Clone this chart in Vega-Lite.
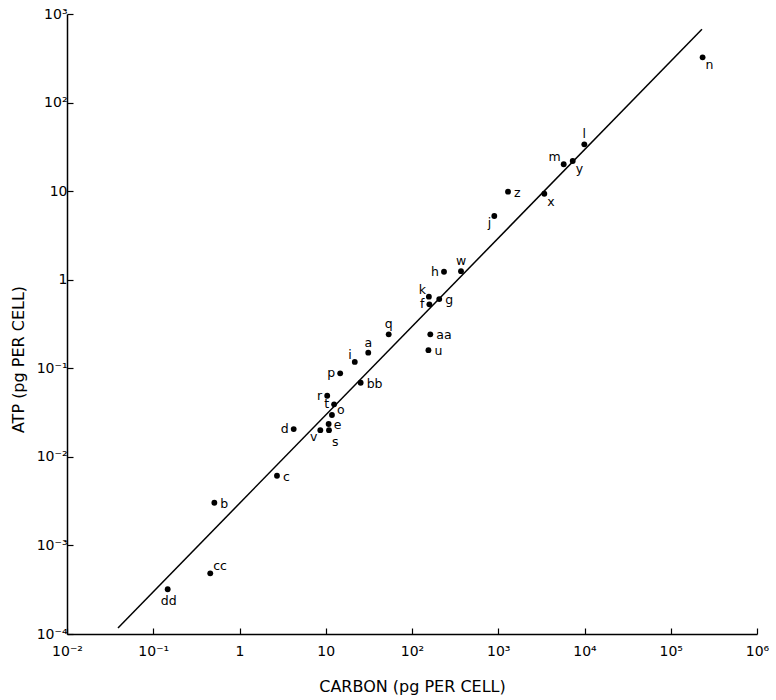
{
  "$schema": "https://vega.github.io/schema/vega-lite/v6.json",
  "width": 690,
  "height": 620,
  "autosize": "none",
  "padding": {"left": 67, "top": 14, "right": 19, "bottom": 66},
  "background": "white",
  "config": {
    "view": {"stroke": null},
    "axis": {
      "grid": false,
      "domainColor": "black",
      "domainWidth": 1.5,
      "tickColor": "black",
      "tickWidth": 1.2,
      "tickSize": -6,
      "labelColor": "black",
      "labelFont": "DejaVu Sans",
      "labelFontSize": 14,
      "titleFont": "DejaVu Sans",
      "titleFontSize": 16,
      "titleFontWeight": "normal",
      "titleColor": "black"
    },
    "text": {"font": "DejaVu Sans", "fontSize": 12.5, "color": "black", "baseline": "middle"}
  },
  "datasets": {
    "points": [
      {"label": "n", "carbon": 234000, "atp": 324},
      {"label": "l", "carbon": 9950, "atp": 33.8},
      {"label": "m", "carbon": 5740, "atp": 20.1},
      {"label": "y", "carbon": 7300, "atp": 21.9},
      {"label": "z", "carbon": 1298, "atp": 9.86},
      {"label": "x", "carbon": 3420, "atp": 9.35},
      {"label": "j", "carbon": 900, "atp": 5.24},
      {"label": "h", "carbon": 235, "atp": 1.23},
      {"label": "w", "carbon": 370, "atp": 1.25},
      {"label": "k", "carbon": 157, "atp": 0.643},
      {"label": "g", "carbon": 207, "atp": 0.605},
      {"label": "f", "carbon": 159, "atp": 0.527},
      {"label": "q", "carbon": 53.7, "atp": 0.242},
      {"label": "aa", "carbon": 163, "atp": 0.242},
      {"label": "u", "carbon": 155, "atp": 0.16},
      {"label": "a", "carbon": 31.1, "atp": 0.15},
      {"label": "i", "carbon": 21.7, "atp": 0.118},
      {"label": "p", "carbon": 14.7, "atp": 0.0877},
      {"label": "bb", "carbon": 25.4, "atp": 0.0687},
      {"label": "r", "carbon": 10.4, "atp": 0.049},
      {"label": "t", "carbon": 12.5, "atp": 0.0392},
      {"label": "o", "carbon": 11.8, "atp": 0.0297},
      {"label": "e", "carbon": 10.8, "atp": 0.0235},
      {"label": "s", "carbon": 10.9, "atp": 0.02},
      {"label": "v", "carbon": 8.65, "atp": 0.02},
      {"label": "d", "carbon": 4.25, "atp": 0.0206},
      {"label": "c", "carbon": 2.72, "atp": 0.00612},
      {"label": "b", "carbon": 0.511, "atp": 0.00303},
      {"label": "cc", "carbon": 0.458, "atp": 0.000484},
      {"label": "dd", "carbon": 0.147, "atp": 0.00032}
    ],
    "fit": [
      {"carbon": 0.039, "atp": 0.000117},
      {"carbon": 230000, "atp": 671}
    ]
  },
  "layer": [
    {
      "data": {"name": "fit"},
      "mark": {"type": "line", "color": "black", "strokeWidth": 1.5, "clip": true},
      "encoding": {
        "x": {
          "field": "carbon", "type": "quantitative",
          "scale": {"type": "log", "domain": [0.01, 1000000], "nice": false},
          "axis": {
            "title": "CARBON (pg PER CELL)",
            "values": [0.01, 0.1, 1, 10, 100, 1000, 10000, 100000, 1000000],
            "labelExpr": "['10⁻⁴','10⁻³','10⁻²','10⁻¹','1','10','10²','10³','10⁴','10⁵','10⁶'][round(log(datum.value)/LN10)+4]",
            "labelPadding": 16,
            "titlePadding": 20,
            "labelFlush": false
          }
        },
        "y": {
          "field": "atp", "type": "quantitative",
          "scale": {"type": "log", "domain": [0.0001, 1000], "nice": false},
          "axis": {
            "title": "ATP (pg PER CELL)",
            "values": [0.0001, 0.001, 0.01, 0.1, 1, 10, 100, 1000],
            "labelExpr": "['10⁻⁴','10⁻³','10⁻²','10⁻¹','1','10','10²','10³','10⁴','10⁵','10⁶'][round(log(datum.value)/LN10)+4]",
            "labelPadding": 6,
            "titlePadding": 10,
            "labelFlush": false,
            "titleY": 345
          }
        }
      }
    },
    {
      "data": {"name": "points"},
      "mark": {"type": "circle", "color": "black", "opacity": 1, "size": 34},
      "encoding": {
        "x": {"field": "carbon", "type": "quantitative"},
        "y": {"field": "atp", "type": "quantitative"}
      }
    },
    {
      "data": {"name": "points"},
      "transform": [{"filter": {"field": "label", "oneOf": ["c", "b", "z", "g", "aa", "u", "bb"]}}],
      "mark": {"type": "text", "align": "left", "dx": 6, "dy": 1, "color": "black"},
      "encoding": {
        "x": {"field": "carbon", "type": "quantitative"},
        "y": {"field": "atp", "type": "quantitative"},
        "text": {"field": "label"}
      }
    },
    {
      "data": {"name": "points"},
      "transform": [{"filter": {"field": "label", "oneOf": ["o"]}}],
      "mark": {"type": "text", "align": "left", "dx": 5, "dy": -5, "color": "black"},
      "encoding": {
        "x": {"field": "carbon", "type": "quantitative"},
        "y": {"field": "atp", "type": "quantitative"},
        "text": {"field": "label"}
      }
    },
    {
      "data": {"name": "points"},
      "transform": [{"filter": {"field": "label", "oneOf": ["e"]}}],
      "mark": {"type": "text", "align": "left", "dx": 5, "dy": 1, "color": "black"},
      "encoding": {
        "x": {"field": "carbon", "type": "quantitative"},
        "y": {"field": "atp", "type": "quantitative"},
        "text": {"field": "label"}
      }
    },
    {
      "data": {"name": "points"},
      "transform": [{"filter": {"field": "label", "oneOf": ["d", "p", "r", "t", "f", "h"]}}],
      "mark": {"type": "text", "align": "right", "dx": -5, "dy": 0, "color": "black"},
      "encoding": {
        "x": {"field": "carbon", "type": "quantitative"},
        "y": {"field": "atp", "type": "quantitative"},
        "text": {"field": "label"}
      }
    },
    {
      "data": {"name": "points"},
      "transform": [{"filter": {"field": "label", "oneOf": ["q", "a", "w", "l"]}}],
      "mark": {"type": "text", "align": "center", "dx": 0, "dy": -10, "color": "black"},
      "encoding": {
        "x": {"field": "carbon", "type": "quantitative"},
        "y": {"field": "atp", "type": "quantitative"},
        "text": {"field": "label"}
      }
    },
    {
      "data": {"name": "points"},
      "transform": [{"filter": {"field": "label", "oneOf": ["k", "m", "i"]}}],
      "mark": {"type": "text", "align": "right", "dx": -3, "dy": -7, "color": "black"},
      "encoding": {
        "x": {"field": "carbon", "type": "quantitative"},
        "y": {"field": "atp", "type": "quantitative"},
        "text": {"field": "label"}
      }
    },
    {
      "data": {"name": "points"},
      "transform": [{"filter": {"field": "label", "oneOf": ["n", "y", "x"]}}],
      "mark": {"type": "text", "align": "left", "dx": 3, "dy": 8, "color": "black"},
      "encoding": {
        "x": {"field": "carbon", "type": "quantitative"},
        "y": {"field": "atp", "type": "quantitative"},
        "text": {"field": "label"}
      }
    },
    {
      "data": {"name": "points"},
      "transform": [{"filter": {"field": "label", "oneOf": ["s"]}}],
      "mark": {"type": "text", "align": "left", "dx": 3, "dy": 12, "color": "black"},
      "encoding": {
        "x": {"field": "carbon", "type": "quantitative"},
        "y": {"field": "atp", "type": "quantitative"},
        "text": {"field": "label"}
      }
    },
    {
      "data": {"name": "points"},
      "transform": [{"filter": {"field": "label", "oneOf": ["v", "j"]}}],
      "mark": {"type": "text", "align": "right", "dx": -3, "dy": 7, "color": "black"},
      "encoding": {
        "x": {"field": "carbon", "type": "quantitative"},
        "y": {"field": "atp", "type": "quantitative"},
        "text": {"field": "label"}
      }
    },
    {
      "data": {"name": "points"},
      "transform": [{"filter": {"field": "label", "oneOf": ["dd"]}}],
      "mark": {"type": "text", "align": "center", "dx": 1, "dy": 12, "color": "black"},
      "encoding": {
        "x": {"field": "carbon", "type": "quantitative"},
        "y": {"field": "atp", "type": "quantitative"},
        "text": {"field": "label"}
      }
    },
    {
      "data": {"name": "points"},
      "transform": [{"filter": {"field": "label", "oneOf": ["cc"]}}],
      "mark": {"type": "text", "align": "left", "dx": 3, "dy": -7, "color": "black"},
      "encoding": {
        "x": {"field": "carbon", "type": "quantitative"},
        "y": {"field": "atp", "type": "quantitative"},
        "text": {"field": "label"}
      }
    }
  ]
}
